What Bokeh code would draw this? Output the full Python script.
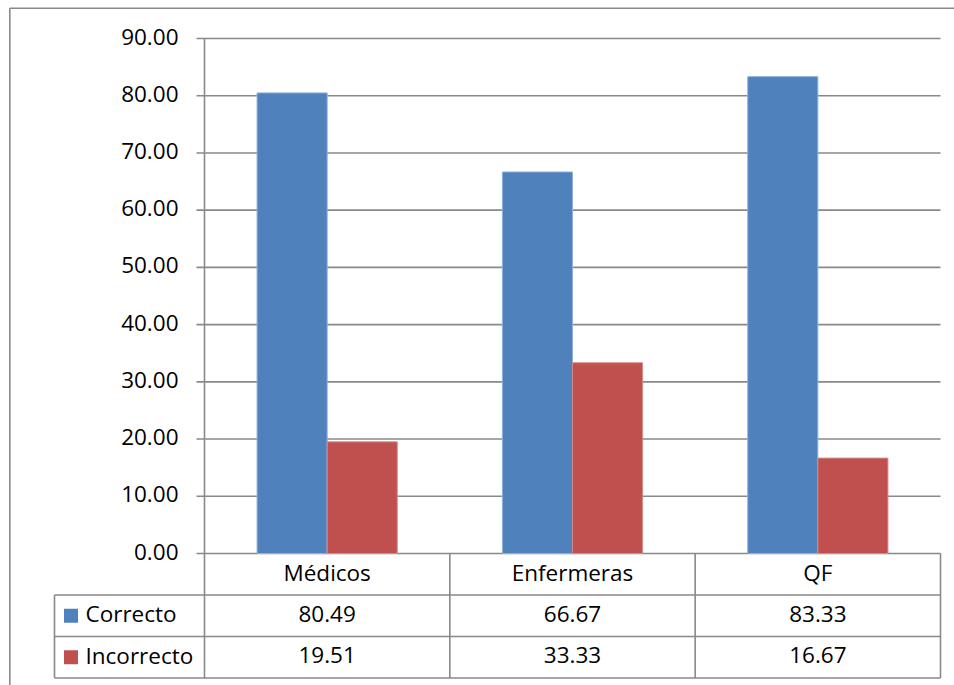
import numpy as np
from bokeh.plotting import figure
from bokeh.models import Range1d
from bokeh.core.properties import value
from bokeh.embed import file_html
from bokeh.resources import INLINE

# ---------------- data ----------------
categories = ["Médicos", "Enfermeras", "QF"]
series_names = ["Correcto", "Incorrecto"]
correcto = [80.49, 66.67, 83.33]
incorrecto = [19.51, 33.33, 16.67]
y_ticks = [0, 10, 20, 30, 40, 50, 60, 70, 80, 90]
series_colors = ["#4F81BD", "#C0504D"]
series_edges = ["#8DB0DA", "#D08C8A"]

# ---------------- layout (pixels) ----------------
W, H = 954, 685
PLOT_L, PLOT_R = 204, 940
PLOT_TOP, ZERO_Y = 38, 553
YMAX = max(y_ticks)
ROW_H = 41.5
LEG_L = 54
BORDER_X, BORDER_Y = 9.3, 7.8
FONT = "Open Sans"
FS = "22.5px"
TXT_DY = -2
LINE_C = "#898989"
LINE_W = 1.6

n = len(categories)
sx = (PLOT_R - PLOT_L) / n
sy = (ZERO_Y - PLOT_TOP) / YMAX


def px2x(px):
    return (px - PLOT_L) / sx


def px2y(py):
    return (ZERO_Y - py) / sy


p = figure(width=W, height=H, output_backend="svg", toolbar_location=None,
           x_range=Range1d(px2x(0), px2x(W)), y_range=Range1d(px2y(H), px2y(0)),
           x_axis_type=None, y_axis_type=None, min_border=0,
           outline_line_color=None, background_fill_color="white",
           border_fill_color="white")
p.grid.visible = False

row_h = ROW_H / sy
x0, x1 = 0, n
leg_x = px2x(LEG_L)

# outer chart border (left and top)
p.segment(x0=[px2x(BORDER_X), px2x(BORDER_X)], y0=[px2y(BORDER_Y), px2y(BORDER_Y)],
          x1=[px2x(BORDER_X), px2x(W)], y1=[px2y(H), px2y(BORDER_Y)],
          line_color=LINE_C, line_width=LINE_W)

# horizontal gridlines + tick marks
p.segment(x0=[px2x(PLOT_L - 8)] * len(y_ticks), y0=y_ticks,
          x1=[x1] * len(y_ticks), y1=y_ticks, line_color=LINE_C, line_width=LINE_W)

# bars
idx = np.arange(n)
bw = 1 / 3.5
for k, (vals, col, edge) in enumerate(zip([correcto, incorrecto], series_colors, series_edges)):
    xs = idx + 0.5 + (k - 0.5) * bw
    p.vbar(x=xs, top=vals, bottom=0, width=bw, fill_color=col, line_color=edge, line_width=1)

# vertical axis line (continues through the table)
p.segment(x0=[x0], y0=[YMAX], x1=[x0], y1=[-3 * row_h], line_color=LINE_C, line_width=LINE_W)

# table lines
hy = [-row_h, -2 * row_h, -3 * row_h]
p.segment(x0=[leg_x] * 3, y0=hy, x1=[x1] * 3, y1=hy, line_color=LINE_C, line_width=LINE_W)
vx = list(range(1, n + 1))
p.segment(x0=vx, y0=[0] * len(vx), x1=vx, y1=[-3 * row_h] * len(vx),
          line_color=LINE_C, line_width=LINE_W)
p.segment(x0=[leg_x], y0=[-row_h], x1=[leg_x], y1=[-3 * row_h],
          line_color=LINE_C, line_width=LINE_W)

txt = dict(text_baseline="middle", text_font=value(FONT), text_font_size=value(FS),
           text_color="#000000", y_offset=TXT_DY)

# y tick labels
p.text(x=[px2x(178)] * len(y_ticks), y=y_ticks, text=["%.2f" % t for t in y_ticks],
       text_align="right", **txt)

# category row
p.text(x=idx + 0.5, y=[-0.5 * row_h] * n, text=categories, text_align="center", **txt)

# value rows + legend keys
for k, (vals, name, col) in enumerate(zip([correcto, incorrecto], series_names, series_colors)):
    yc = -(k + 1.5) * row_h
    p.text(x=idx + 0.5, y=[yc] * n, text=["%.2f" % v for v in vals], text_align="center", **txt)
    p.scatter(x=[px2x(70.5)], y=[yc], marker="square", size=14, fill_color=col, line_color=None)
    p.text(x=[px2x(85)], y=[yc], text=[name], text_align="left", **txt)

open("out.html", "w").write(file_html(p, INLINE))
